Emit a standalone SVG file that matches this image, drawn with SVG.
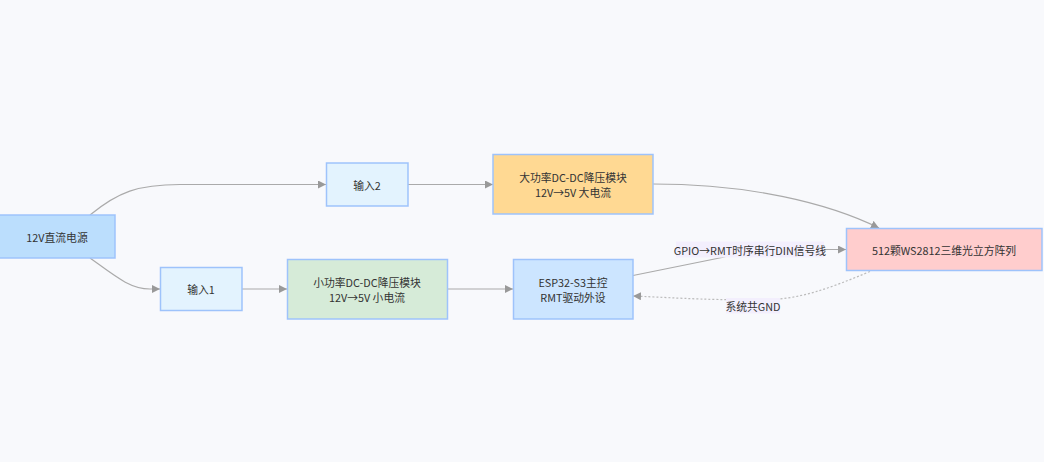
<svg xmlns="http://www.w3.org/2000/svg" width="1044" height="462" viewBox="0 0 1044 462">
<defs>
<marker id="arr" viewBox="0 0 10 10" refX="10" refY="5" markerWidth="8" markerHeight="8" markerUnits="userSpaceOnUse" orient="auto">
<path d="M0,0 L10,5 L0,10 z" fill="#999"/>
</marker>
<style>
text{font-family:"Noto Sans CJK SC","Liberation Sans",sans-serif;font-size:10.8px;fill:#333;text-anchor:middle;dominant-baseline:central}
.n{stroke:#9ec3fb;stroke-width:1.5}
.e{fill:none;stroke:#aaa;stroke-width:1.2}
.d{stroke-dasharray:2 2;stroke:#bbb}
.lb{fill:#f3effd}
</style>
</defs>
<rect width="1044" height="462" fill="#f8f9fc"/>
<g id="connectors">
<path class="e" d="M90,215 C118,192 138,184.5 180,184.5 L326,184.5" marker-end="url(#arr)"/>
<path class="e" d="M90,258 C115,276 130,289 150,289 L160,289" marker-end="url(#arr)"/>
<path class="e" d="M408,184.5 L493,184.5" marker-end="url(#arr)"/>
<path class="e" d="M242,289 L287,289" marker-end="url(#arr)"/>
<path class="e" d="M447,289 L513,289" marker-end="url(#arr)"/>
<path class="e" d="M653,184 C750,184 828,203 879,228" marker-end="url(#arr)"/>
<path class="e" d="M633,275.5 L722,257.5 C735,254 745,249.5 760,249.5 L846,249.5" marker-end="url(#arr)"/>
<path class="e d" d="M870,271.5 C830,288 800,300 760,300 C700,300 660,297 633,296" marker-end="url(#arr)"/>
<rect class="lb" x="676" y="241.5" width="148" height="16"/>
<text x="750" y="249.5">GPIO→RMT时序串行DIN信号线</text>
<rect class="lb" x="726" y="298" width="54" height="15.5"/>
<text x="753" y="305.5">系统共GND</text>
</g>
<g id="power">
<rect class="n" x="-2" y="215" width="117" height="43" fill="#bbdefd"/>
<text x="57" y="236.5">12V直流电源</text>
</g>
<g id="in2">
<rect class="n" x="326.5" y="163" width="81.5" height="43" fill="#e3f3fe"/>
<text x="367" y="184.5">输入2</text>
</g>
<g id="in1">
<rect class="n" x="160.5" y="267.5" width="81.5" height="43" fill="#e3f3fe"/>
<text x="201" y="289">输入1</text>
</g>
<g id="bigdc">
<rect class="n" x="493" y="154.5" width="160" height="59.5" fill="#ffd993"/>
<text x="573" y="176.5">大功率DC-DC降压模块</text>
<text x="573" y="192">12V→5V 大电流</text>
</g>
<g id="smalldc">
<rect class="n" x="287.5" y="259.5" width="160" height="59.5" fill="#d6ebd8"/>
<text x="367" y="281.5">小功率DC-DC降压模块</text>
<text x="367" y="297">12V→5V 小电流</text>
</g>
<g id="esp32">
<rect class="n" x="513.5" y="259.5" width="119.5" height="59.5" fill="#cce5ff"/>
<text x="573" y="281.5">ESP32-S3主控</text>
<text x="573" y="297">RMT驱动外设</text>
</g>
<g id="cube">
<rect class="n" x="846.5" y="228.5" width="195.5" height="42" fill="#ffcdcd"/>
<text x="944" y="249.5">512颗WS2812三维光立方阵列</text>
</g>
</svg>
